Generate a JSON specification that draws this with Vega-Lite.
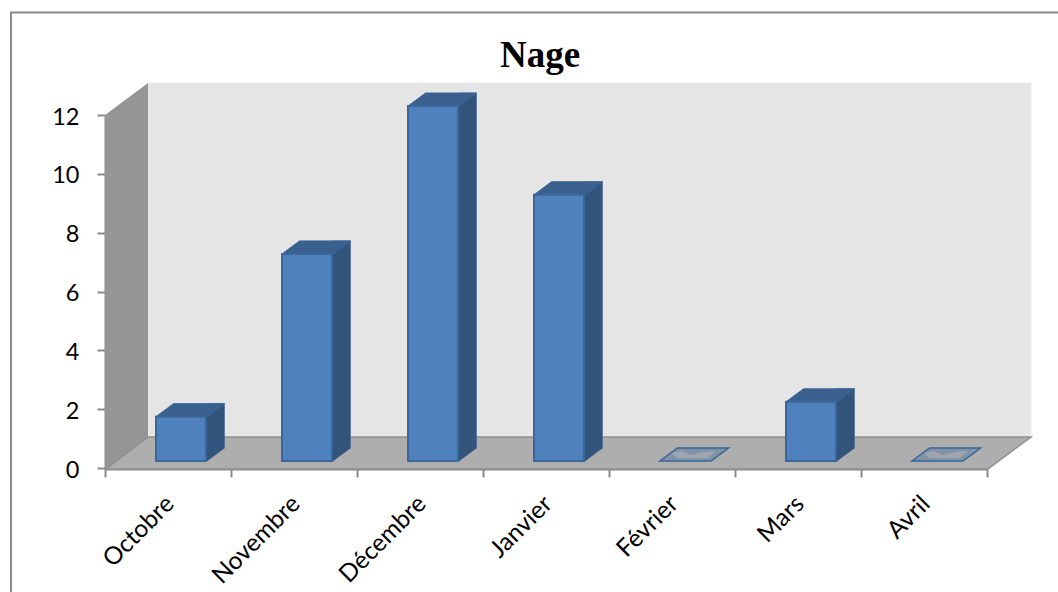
{
"$schema":"https://vega.github.io/schema/vega-lite/v6.json",
"width":882,"height":353,
"autosize":{"type":"none"},
"padding":{"left":105,"top":115,"right":71,"bottom":124},
"background":"#ffffff",
"title":{"text":"Nage","anchor":"middle","font":"Liberation Serif","fontSize":37,"fontWeight":"bold","color":"#000000","dx":-6,"offset":-66},
"data":{"values":[
{"mois":"Octobre","valeur":1.5},
{"mois":"Novembre","valeur":7},
{"mois":"Décembre","valeur":12},
{"mois":"Janvier","valeur":9},
{"mois":"Février","valeur":0},
{"mois":"Mars","valeur":2},
{"mois":"Avril","valeur":0}
]},
"resolve":{"scale":{"y":"independent"}},
"layer":[
{
"data":{"values":[{"element":"cadre"}]},
"encoding":{
"x":{"datum":"Octobre","type":"nominal","sort":null,
"scale":{"domain":["Octobre","Novembre","Décembre","Janvier","Février","Mars","Avril"],"paddingInner":0,"paddingOuter":0},
"axis":{"title":null,"offset":1,"labelAngle":-45,"labelAlign":"right","labelBaseline":"middle","labelFont":"Lato","labelFontSize":24.5,"labelColor":"#000000","labelPadding":23,"labelOffset":2,"tickSize":8,"tickWidth":2,"tickColor":"#8a8a8a","tickBand":"extent","domainColor":"#8a8a8a","domainWidth":2,"labelOverlap":false,"grid":false}},
"y":{"datum":0,"type":"quantitative",
"scale":{"domain":[0,12],"nice":false},
"axis":{"title":null,"values":[0,2,4,6,8,10,12],"labelFont":"Lato","labelFontSize":23.5,"labelColor":"#000000","labelPadding":18,"labelOffset":2,"tickSize":8,"tickWidth":2,"tickColor":"#8a8a8a","domainColor":"#8a8a8a","domainWidth":2,"grid":false}}
},
"layer":[
{"mark":{"type":"point","size":4,"filled":false,"opacity":1,"stroke":"#8a8a8a","strokeWidth":2,"shape":"M-157 130 L-157 -455.5 L900 -455.5"}},
{"mark":{"type":"point","size":4,"filled":true,"opacity":1,"fill":"#e5e5e5","stroke":"#ececec","strokeWidth":1,"shape":"M-20 -385 L863 -385 L863 -31 L-20 -31 Z"}},
{"mark":{"type":"point","size":4,"filled":true,"opacity":1,"fill":"#959595","strokeWidth":0,"shape":"M-63 -353 L-20 -385 L-20 -31 L-62 1 L-63 1 Z"}},
{"mark":{"type":"point","size":4,"filled":true,"opacity":1,"fill":"#aeaeae","stroke":"#8e8e8e","strokeWidth":1.5,"shape":"M-62 1 L-20 -31 L863 -31 L820 1 Z"}}
]
},
{
"encoding":{
"x":{"field":"mois","type":"nominal","sort":null},
"y":{"field":"valeur","type":"quantitative","axis":null,"scale":{"domain":[0,12],"nice":false,"range":[346,-9]}}
},
"layer":[
{"transform":[{"filter":"datum.valeur > 0"}],
"mark":{"type":"point","size":4,"filled":true,"opacity":1,"fill":"#32537a","stroke":"#32537a","strokeWidth":0.5,"shape":"M39 0 L56.5 -13 L39 -13 Z"},
"encoding":{"y":{"datum":0,"type":"quantitative"}}},
{"transform":[{"filter":"datum.valeur > 0"}],
"mark":{"type":"bar","width":17.5,"xOffset":47.75,"yOffset":-13,"fill":"#32537a","stroke":"#3a6090","strokeWidth":0.5}},
{"transform":[{"filter":"datum.valeur > 0"}],
"mark":{"type":"point","size":4,"filled":true,"opacity":1,"fill":"#3a6090","stroke":"#3a6597","strokeWidth":1,"shape":"M-12 0 L39 0 L56.5 -13 L5.5 -13 Z"}},
{"transform":[{"filter":"datum.valeur > 0"}],
"mark":{"type":"bar","width":50,"xOffset":13,"fill":"#4f81bd","stroke":"#3a6699","strokeWidth":2}},
{"transform":[{"filter":"datum.valeur == 0"}],
"mark":{"type":"point","size":4,"filled":true,"opacity":1,"fill":"#8193a9","stroke":"#3a6597","strokeWidth":1.5,"shape":"M-12 0 L39 0 L56.5 -13 L5.5 -13 Z"}},
{"transform":[{"filter":"datum.valeur == 0"}],
"mark":{"type":"point","size":4,"filled":true,"opacity":1,"fill":"#9ea6af","strokeWidth":0,"shape":"M0 -8 L10 -10 L18 -6 L32 -9 L44 -10 L36 -3 L5 -3 Z"}}
]
}
]
}
